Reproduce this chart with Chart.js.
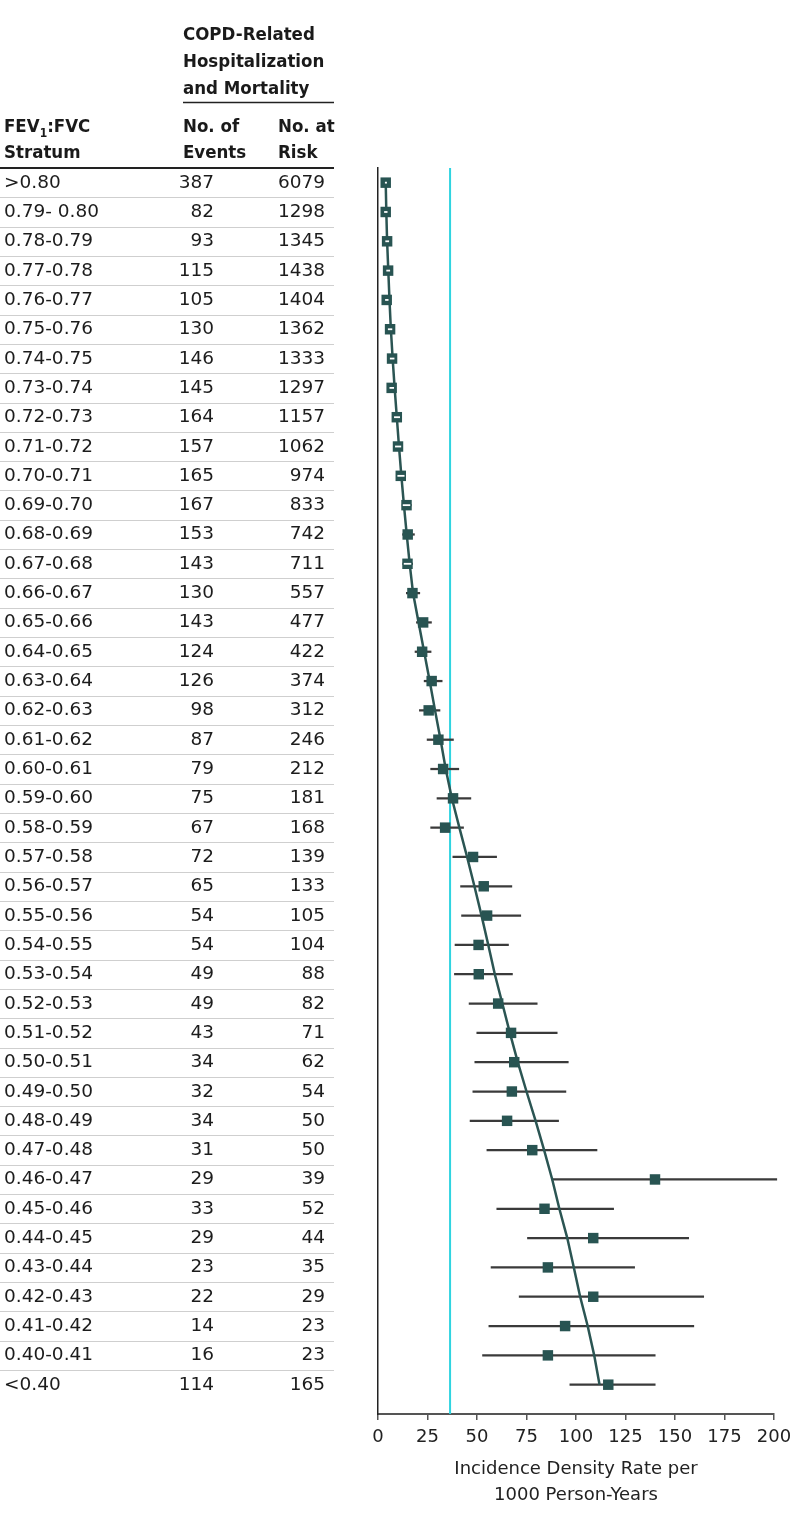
<!DOCTYPE html>
<html>
<head>
<meta charset="utf-8">
<script src="https://cdn.jsdelivr.net/npm/chart.js@4.4.0/dist/chart.umd.min.js"></script>
<style>
  html, body { margin: 0; padding: 0; background: #fff; }
  #chart { display: block; }
</style>
</head>
<body>
<canvas id="chart" width="794" height="1525"></canvas>
<script>
const strata = [
  ">0.80", "0.79- 0.80", "0.78-0.79", "0.77-0.78", "0.76-0.77", "0.75-0.76",
  "0.74-0.75", "0.73-0.74", "0.72-0.73", "0.71-0.72", "0.70-0.71", "0.69-0.70",
  "0.68-0.69", "0.67-0.68", "0.66-0.67", "0.65-0.66", "0.64-0.65", "0.63-0.64",
  "0.62-0.63", "0.61-0.62", "0.60-0.61", "0.59-0.60", "0.58-0.59", "0.57-0.58",
  "0.56-0.57", "0.55-0.56", "0.54-0.55", "0.53-0.54", "0.52-0.53", "0.51-0.52",
  "0.50-0.51", "0.49-0.50", "0.48-0.49", "0.47-0.48", "0.46-0.47", "0.45-0.46",
  "0.44-0.45", "0.43-0.44", "0.42-0.43", "0.41-0.42", "0.40-0.41", "<0.40"
];
const events = [
  387, 82, 93, 115, 105, 130, 146, 145, 164, 157, 165, 167, 153, 143, 130, 143,
  124, 126, 98, 87, 79, 75, 67, 72, 65, 54, 54, 49, 49, 43, 34, 32, 34, 31, 29,
  33, 29, 23, 22, 14, 16, 114
];
const atRisk = [
  6079, 1298, 1345, 1438, 1404, 1362, 1333, 1297, 1157, 1062, 974, 833, 742, 711,
  557, 477, 422, 374, 312, 246, 212, 181, 168, 139, 133, 105, 104, 88, 82, 71, 62,
  54, 50, 50, 39, 52, 44, 35, 29, 23, 23, 165
];
const rates = [
  3.9, 3.9, 4.6, 5.1, 4.4, 6.1, 7.1, 6.9, 9.5, 10.1, 11.5, 14.4, 15.0, 14.9, 17.4,
  22.8, 22.3, 27.1, 25.6, 30.5, 32.9, 37.9, 33.9, 48.0, 53.4, 55.1, 50.8, 50.9,
  60.7, 67.2, 68.8, 67.6, 65.2, 77.9, 139.9, 84.1, 108.7, 85.8, 108.7, 94.5, 85.8,
  116.3
];
const ciLow = [
  3.5, 3.1, 3.7, 4.2, 3.6, 5.0, 6.0, 5.8, 8.1, 8.6, 9.8, 12.2, 12.4, 12.5, 14.3,
  19.4, 18.7, 23.3, 20.9, 24.8, 26.6, 29.8, 26.6, 37.8, 41.7, 42.2, 38.9, 38.6,
  46.0, 49.9, 48.9, 47.9, 46.5, 55.0, 87.8, 60.0, 75.5, 57.1, 71.3, 56.0, 52.8,
  96.9
];
const ciHigh = [
  4.3, 4.8, 5.6, 6.1, 5.3, 7.2, 8.3, 8.1, 11.1, 11.7, 13.4, 16.8, 18.4, 17.5, 21.1,
  27.0, 26.8, 32.4, 31.3, 38.1, 40.8, 46.9, 43.2, 59.9, 67.6, 72.1, 65.9, 67.9,
  80.4, 90.5, 96.1, 94.9, 91.2, 110.6, 201.4, 119.0, 156.9, 129.6, 164.5, 159.5,
  140.0, 140.0
];
const trend = [
  3.9, 4.2, 4.6, 5.2, 5.8, 6.5, 7.4, 8.4, 9.5, 10.6, 11.8, 13.1, 14.5, 16.0, 17.7,
  20.5, 23.3, 26.1, 28.8, 31.6, 34.2, 37.3, 41.1, 45.0, 48.7, 52.3, 55.7, 59.0,
  62.8, 66.6, 70.6, 75.0, 79.6, 83.9, 88.0, 91.6, 95.6, 98.9, 102.1, 105.9, 109.2,
  111.9
];
const overallRate = 36.4;
const xTicks = [0, 25, 50, 75, 100, 125, 150, 175, 200];

const Y_MIN = -0.5;
const Y_MAX = 42;
const MARKER_RADIUS = 7.4;
const TEAL = "#285452";
const FONT = '"DejaVu Sans", Verdana, sans-serif';
const HEAD_FONT = 'bold 18.5px "DejaVu Sans Condensed", "DejaVu Sans", sans-serif';

// table columns: left text edge, right edges for the number columns
const COL_STRATUM = 4;
const COL_EVENTS = 214;
const COL_RISK = 325;
const TABLE_RIGHT = 334;

const tablePlugin = {
  id: "strataTable",
  afterDraw(chart) {
    const { ctx } = chart;
    const y = chart.scales.y;
    ctx.save();

    // header
    ctx.fillStyle = "#1a1a1a";
    ctx.font = HEAD_FONT;
    ctx.fontStretch = "condensed";
    ctx.textAlign = "left";
    ctx.textBaseline = "alphabetic";
    ctx.fillText("COPD-Related", 183, 40);
    ctx.fillText("Hospitalization", 183, 67);
    ctx.fillText("and Mortality", 183, 94);
    ctx.fillText("No. of", 183, 132);
    ctx.fillText("Events", 183, 158);
    ctx.fillText("No. at", 278, 132);
    ctx.fillText("Risk", 278, 158);
    ctx.fillText("Stratum", COL_STRATUM, 158);

    let cx = COL_STRATUM;
    ctx.fillText("FEV", cx, 132);
    cx += ctx.measureText("FEV").width;
    ctx.font = 'bold 12px "DejaVu Sans Condensed", "DejaVu Sans", sans-serif';
    ctx.fillText("1", cx, 137);
    cx += ctx.measureText("1").width;
    ctx.font = HEAD_FONT;
    ctx.fillText(":FVC", cx, 132);

    ctx.strokeStyle = "#222";
    ctx.lineWidth = 1.5;
    ctx.beginPath();
    ctx.moveTo(183, 102.5);
    ctx.lineTo(TABLE_RIGHT, 102.5);
    ctx.stroke();

    ctx.lineWidth = 2;
    ctx.beginPath();
    ctx.moveTo(0, 168);
    ctx.lineTo(TABLE_RIGHT, 168);
    ctx.stroke();

    // row separators
    ctx.strokeStyle = "#cfcfcf";
    ctx.lineWidth = 1.2;
    for (let i = 0; i < strata.length - 1; i++) {
      const yy = Math.round(y.getPixelForValue(i + 0.5)) + 0.5;
      ctx.beginPath();
      ctx.moveTo(0, yy);
      ctx.lineTo(TABLE_RIGHT, yy);
      ctx.stroke();
    }

    // rows
    ctx.fillStyle = "#1c1c1c";
    ctx.font = "18.5px " + FONT;
    ctx.fontStretch = "normal";
    strata.forEach((label, i) => {
      const yy = y.getPixelForValue(i) + 5;
      ctx.textAlign = "left";
      ctx.fillText(label, COL_STRATUM, yy);
      ctx.textAlign = "right";
      ctx.fillText(String(events[i]), COL_EVENTS, yy);
      ctx.fillText(String(atRisk[i]), COL_RISK, yy);
    });
    ctx.restore();
  },
};

// narrow intervals sit inside the square and show as a white dash
const innerCiPlugin = {
  id: "innerCi",
  afterDatasetsDraw(chart) {
    const { ctx } = chart;
    const { x, y } = chart.scales;
    const half = MARKER_RADIUS * Math.SQRT1_2;
    ctx.save();
    ctx.strokeStyle = "#ffffff";
    ctx.lineWidth = 1.8;
    rates.forEach((v, i) => {
      const c = x.getPixelForValue(v);
      const lo = x.getPixelForValue(ciLow[i]);
      const hi = x.getPixelForValue(ciHigh[i]);
      if (lo >= c - half && hi <= c + half) {
        const yy = y.getPixelForValue(i);
        ctx.beginPath();
        ctx.moveTo(Math.max(lo, c - half + 1.5), yy);
        ctx.lineTo(Math.min(Math.max(hi, lo + 2), c + half - 1.5), yy);
        ctx.stroke();
      }
    });
    ctx.restore();
  },
};

new Chart(document.getElementById("chart"), {
  type: "scatter",
  data: {
    datasets: [
      {
        type: "line",
        data: [
          { x: overallRate, y: Y_MIN },
          { x: overallRate, y: Y_MAX },
        ],
        borderColor: "#2fd4e0",
        borderWidth: 2,
        pointRadius: 0,
        order: 4,
      },
      {
        type: "bar",
        indexAxis: "y",
        data: strata.map((s, i) => ({ y: i, x: [ciLow[i], ciHigh[i]] })),
        backgroundColor: "#3a3a3a",
        barThickness: 1.6,
        clip: false,
        order: 3,
      },
      {
        type: "line",
        data: trend.map((v, i) => ({ x: v, y: i })),
        borderColor: "#2b5553",
        borderWidth: 2.5,
        pointRadius: 0,
        order: 2,
      },
      {
        type: "scatter",
        data: rates.map((v, i) => ({ x: v, y: i })),
        pointStyle: "rect",
        pointRadius: MARKER_RADIUS,
        backgroundColor: TEAL,
        borderWidth: 0,
        order: 1,
      },
    ],
  },
  options: {
    responsive: false,
    animation: false,
    devicePixelRatio: 1,
    layout: { padding: { top: 168, right: 20, left: 0, bottom: 0 } },
    plugins: {
      legend: { display: false },
      tooltip: { enabled: false },
    },
    scales: {
      x: {
        type: "linear",
        min: 0,
        max: 200,
        afterBuildTicks: (scale) => {
          scale.ticks = xTicks.map((v) => ({ value: v }));
        },
        afterFit: (scale) => {
          scale.height = 111;
          scale.paddingRight = 0;
        },
        ticks: {
          color: "#222",
          font: { family: FONT, size: 18 },
          padding: 7,
          maxRotation: 0,
          autoSkip: false,
        },
        grid: {
          drawOnChartArea: false,
          drawTicks: true,
          tickLength: 6,
          color: "#555",
          lineWidth: 1.5,
          offset: false,
        },
        border: { display: true, color: "#555", width: 2 },
        title: {
          display: true,
          text: ["Incidence Density Rate per", "1000 Person-Years"],
          color: "#222",
          font: { family: FONT, size: 18, lineHeight: 1.45 },
          padding: { top: 0, bottom: 17 },
        },
      },
      y: {
        type: "linear",
        reverse: true,
        min: Y_MIN,
        max: Y_MAX,
        offset: false,
        afterFit: (scale) => {
          scale.width = 378;
        },
        ticks: { display: false },
        grid: {
          drawOnChartArea: false,
          drawTicks: false,
          offset: false,
        },
        border: { display: true, color: "#222", width: 1.5 },
      },
    },
  },
  plugins: [innerCiPlugin, tablePlugin],
});
</script>
</body>
</html>
